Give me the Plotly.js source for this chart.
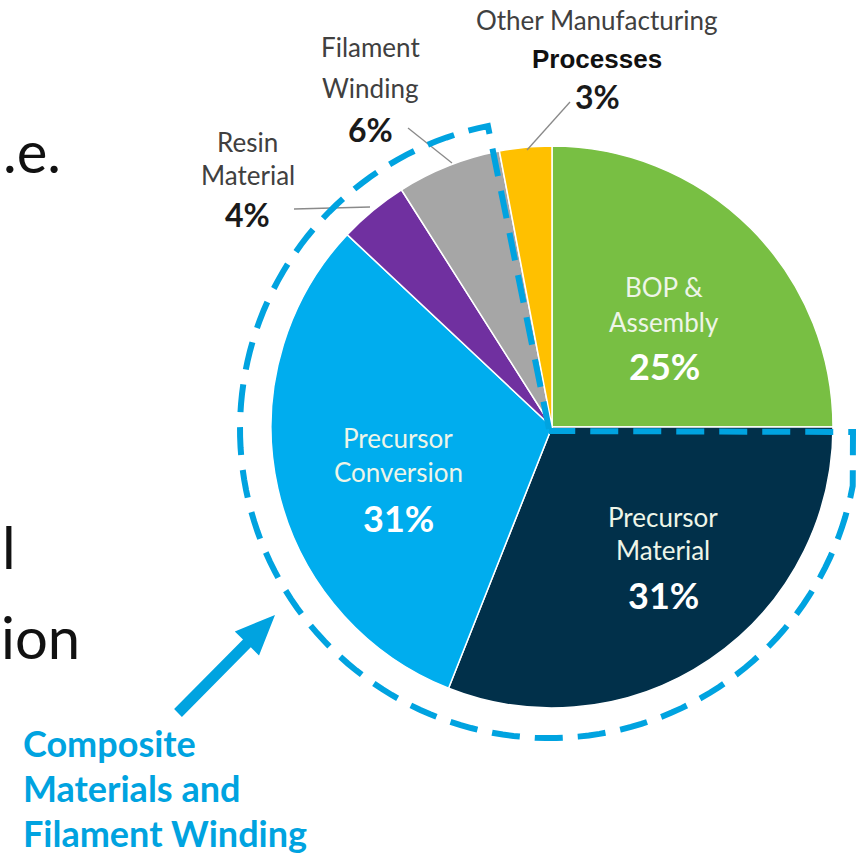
<!DOCTYPE html>
<html><head><meta charset="utf-8">
<script src="https://cdn.plot.ly/plotly-3.0.1.min.js"></script>
<style>html,body{margin:0;padding:0;background:#fff}#chart{width:856px;height:856px}</style>
</head><body><div id="chart"></div>
<script>
// ---- data ----
const labels = ['BOP & Assembly','Precursor Material','Precursor Conversion','Resin Material','Filament Winding','Other Manufacturing Processes'];
const labelLines = [['BOP &','Assembly'],['Precursor','Material'],['Precursor','Conversion'],['Resin','Material'],['Filament','Winding'],['Other Manufacturing','Processes']];
const values = [25,31,31,4,6,3];
const sliceColors = ['#78bf43','#01304a','#00adee','#7030a0','#a6a6a6','#ffc000'];
const calloutLines = ['Composite','Materials and','Filament Winding'];
const slideFragments = ['.e.','l','ion'];

// ---- layout helpers (pixel -> paper) ----
const W = 856, H = 856;
const px = x => x / W, py = y => 1 - y / H;
const cx = 552, cy = 427, R = 281;

const annotations = [];
function addText(t, x, y, size, color, family, bold, anchor) {
  annotations.push({text: bold ? '<b>' + t + '</b>' : t, x: px(x), y: py(y), xref: 'paper', yref: 'paper',
    xanchor: anchor || 'center', yanchor: 'middle', showarrow: false, borderpad: 0,
    font: {size: size, color: color, family: family}});
}
// label placement (layout positions)
const place = [
  {x: 664, ly: [287, 322], py: 366, inside: true},
  {x: 663, ly: [517, 550], py: 595, inside: true},
  {x: 398, ly: [438, 472], py: 518, inside: true},
  {x: 248, ly: [142, 175], py: 214},
  {x: 370, ly: [47, 88], py: 130},
  {x: 597, ly: [20, 59], py: 96}
];
const LATO = 'Lato, "Open Sans", sans-serif';
labels.forEach((lab, i) => {
  const p = place[i];
  const lines = labelLines[i];
  lines.forEach((ln, j) => {
    if (p.inside) addText(ln, p.x, p.ly[j], 26, '#eef5e8', LATO, false);
    else if (i === 5 && j === 1) addText(ln, p.x, p.ly[j], 26, '#111111', 'Liberation Sans, Arial, sans-serif', true);
    else addText(ln, p.x, p.ly[j], 26, '#404040', LATO, false);
  });
  if (p.inside) addText(values[i] + '%', p.x, p.py, 36, '#ffffff', LATO, true);
  else addText(values[i] + '%', p.x, p.py, 32, '#1a1a1a', LATO, true);
});
// callout text
calloutLines.forEach((t, j) => addText(t, 22, 743 + j * 45, 36, '#00a3e0', LATO, true, 'left'));
// slide text fragments at the left edge
addText(slideFragments[0], 2, 150, 58, '#111111', LATO, false, 'left');
addText(slideFragments[1], 1, 546, 58, '#111111', LATO, false, 'left');
addText(slideFragments[2], 0, 636, 58, '#111111', LATO, false, 'left');

const shapes = [];
// leader lines
const leaders = [[294,209,370,207],[408,128,452,163],[570,102,527,150]];
leaders.forEach(l => shapes.push({type: 'line', xref: 'paper', yref: 'paper', x0: px(l[0]), y0: py(l[1]), x1: px(l[2]), y1: py(l[3]), line: {color: '#8a8a8a', width: 1.3}}));

// dashed outline (decoration)
const dcx = 549, dcy = 429, dr = 309;
let path = `M ${px(dcx)} ${py(dcy)}`;
for (let a = 348.6; a >= 100; a -= 2) {
  const r = a * Math.PI / 180;
  path += ` L ${px(dcx + dr * Math.sin(r))} ${py(dcy - dr * Math.cos(r))}`;
}
path += ` L ${px(853)} ${py(432)} L ${px(dcx)} ${py(431)}`;
shapes.push({type: 'path', xref: 'paper', yref: 'paper', path: path, line: {color: '#00a3e0', width: 6, dash: '28px,15px'}, fillcolor: 'rgba(0,0,0,0)'});

// arrow polygon
const arrow = [[174.1,709.1],[243.0,639.5],[234.8,631.4],[275,615],[259.0,655.4],[250.8,647.3],[181.9,716.9]];
shapes.push({type: 'path', xref: 'paper', yref: 'paper',
  path: 'M ' + arrow.map(p => px(p[0]) + ' ' + py(p[1])).join(' L ') + ' Z',
  fillcolor: '#00a3e0', line: {width: 0}});

const trace = {
  type: 'pie', labels: labels, values: values, sort: false, direction: 'clockwise', rotation: 0,
  marker: {colors: sliceColors, line: {color: '#ffffff', width: 1.5}},
  textinfo: 'none', hoverinfo: 'label+percent', showlegend: false,
  domain: {x: [px(cx - R), px(cx + R)], y: [py(cy + R), py(cy - R)]}
};
const layout = {width: W, height: H, margin: {l: 0, r: 0, t: 0, b: 0}, paper_bgcolor: '#ffffff',
  showlegend: false, annotations: annotations, shapes: shapes};
Plotly.newPlot('chart', [trace], layout, {displayModeBar: false, staticPlot: true});
</script></body></html>
